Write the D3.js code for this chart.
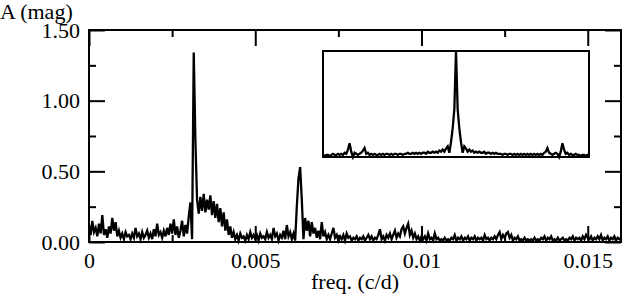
<!DOCTYPE html>
<html>
<head>
<meta charset="utf-8">
<script src="https://cdn.jsdelivr.net/npm/d3@7"></script>
<style>
  body { margin: 0; background: #fff; }
  svg { display: block; }
  text { font-family: "Liberation Serif", "Times New Roman", serif; font-size: 22px; fill: #000; }
</style>
</head>
<body>
<div id="chart"></div>
<script>
// amplitude spectrum, one value every 0.00005 c/d starting at 0
var freqStep = 0.00005;
var amplitude = [
  0.12, 0.05, 0.15, 0.07, 0.10, 0.04, 0.13, 0.06, 0.19, 0.05,
  0.09, 0.03, 0.11, 0.06, 0.17, 0.08, 0.14, 0.04, 0.08, 0.03,
  0.06, 0.02, 0.07, 0.04, 0.05, 0.02, 0.06, 0.03, 0.10, 0.04,
  0.06, 0.02, 0.07, 0.03, 0.05, 0.08, 0.03, 0.06, 0.02, 0.09,
  0.04, 0.13, 0.05, 0.07, 0.03, 0.08, 0.04, 0.10, 0.05, 0.13,
  0.06, 0.16, 0.05, 0.11, 0.03, 0.08, 0.15, 0.04, 0.12, 0.06,
  0.18, 0.28, 0.02, 1.34, 0.72, 0.30, 0.20, 0.32, 0.22, 0.34,
  0.21, 0.30, 0.23, 0.33, 0.19, 0.29, 0.17, 0.27, 0.14, 0.24,
  0.11, 0.21, 0.08, 0.16, 0.05, 0.11, 0.03, 0.07, 0.02, 0.05,
  0.01, 0.06, 0.03, 0.04, 0.01, 0.05, 0.02, 0.07, 0.03, 0.05,
  0.02, 0.05, 0.01, 0.06, 0.03, 0.04, 0.02, 0.07, 0.03, 0.05,
  0.02, 0.10, 0.04, 0.06, 0.01, 0.05, 0.03, 0.08, 0.02, 0.12,
  0.04, 0.07, 0.02, 0.06, 0.01, 0.25, 0.45, 0.53, 0.30, 0.02,
  0.17, 0.08, 0.15, 0.04, 0.14, 0.06, 0.10, 0.03, 0.08, 0.02,
  0.14, 0.04, 0.07, 0.02, 0.05, 0.02, 0.06, 0.10, 0.03, 0.05,
  0.01, 0.04, 0.02, 0.05, 0.01, 0.06, 0.03, 0.04, 0.01, 0.03,
  0.02, 0.04, 0.01, 0.03, 0.02, 0.04, 0.01, 0.03, 0.05, 0.02,
  0.04, 0.01, 0.03, 0.02, 0.05, 0.09, 0.02, 0.04, 0.01, 0.05,
  0.03, 0.06, 0.02, 0.05, 0.08, 0.03, 0.06, 0.04, 0.09, 0.11,
  0.06, 0.10, 0.13, 0.05, 0.08, 0.03, 0.06, 0.02, 0.04, 0.01,
  0.04, 0.02, 0.04, 0.01, 0.06, 0.02, 0.03, 0.01, 0.06, 0.02,
  0.03, 0.01, 0.02, 0.01, 0.03, 0.01, 0.02, 0.01, 0.03, 0.02,
  0.05, 0.01, 0.03, 0.02, 0.04, 0.01, 0.03, 0.02, 0.04, 0.01,
  0.03, 0.02, 0.04, 0.01, 0.03, 0.02, 0.03, 0.01, 0.05, 0.02,
  0.03, 0.01, 0.03, 0.02, 0.04, 0.02, 0.05, 0.07, 0.02, 0.05,
  0.03, 0.06, 0.07, 0.03, 0.05, 0.01, 0.03, 0.02, 0.04, 0.01,
  0.02, 0.01, 0.03, 0.01, 0.02, 0.01, 0.02, 0.01, 0.03, 0.01,
  0.02, 0.01, 0.03, 0.02, 0.04, 0.01, 0.03, 0.02, 0.04, 0.01,
  0.02, 0.01, 0.03, 0.01, 0.02, 0.03, 0.01, 0.02, 0.01, 0.03,
  0.02, 0.04, 0.01, 0.03, 0.02, 0.03, 0.01, 0.04, 0.02, 0.05,
  0.03, 0.02, 0.04, 0.01, 0.03, 0.02, 0.04, 0.02, 0.05, 0.01,
  0.03, 0.02, 0.04, 0.01, 0.03, 0.02, 0.04, 0.01, 0.03, 0.02,
  0.03
];

// spectral window (inset), offsets -0.004 .. 0.004 c/d, step 0.00005
var windowStart = -0.004;
var windowStep = 0.00005;
var windowAmp = [
  0.02, 0.01, 0.02, 0.02, 0.01, 0.02, 0.03, 0.02, 0.02, 0.03,
  0.02, 0.03, 0.02, 0.04, 0.03, 0.07, 0.13, 0.05, 0.00, 0.04,
  0.03, 0.02, 0.03, 0.04, 0.06, 0.085, 0.03, 0.04, 0.02, 0.03,
  0.02, 0.03, 0.02, 0.02, 0.03, 0.02, 0.03, 0.02, 0.03, 0.03,
  0.02, 0.03, 0.02, 0.03, 0.03, 0.02, 0.03, 0.03, 0.02, 0.03,
  0.03, 0.04, 0.03, 0.03, 0.04, 0.03, 0.04, 0.03, 0.04, 0.03,
  0.04, 0.04, 0.03, 0.05, 0.04, 0.04, 0.05, 0.04, 0.05, 0.04,
  0.06, 0.05, 0.07, 0.05, 0.08, 0.10, 0.04, 0.14, 0.27, 0.45,
  1.00, 0.45, 0.27, 0.14, 0.04, 0.10, 0.08, 0.05, 0.07, 0.05,
  0.06, 0.04, 0.05, 0.04, 0.05, 0.04, 0.04, 0.05, 0.03, 0.04,
  0.04, 0.03, 0.04, 0.03, 0.04, 0.03, 0.03, 0.03, 0.02, 0.03,
  0.03, 0.02, 0.03, 0.03, 0.02, 0.03, 0.02, 0.03, 0.02, 0.03,
  0.02, 0.03, 0.02, 0.03, 0.02, 0.03, 0.02, 0.03, 0.02, 0.03,
  0.02, 0.03, 0.02, 0.04, 0.05, 0.085, 0.04, 0.03, 0.02, 0.03,
  0.04, 0.03, 0.00, 0.05, 0.13, 0.07, 0.03, 0.04, 0.02, 0.03,
  0.02, 0.02, 0.03, 0.02, 0.02, 0.01, 0.02, 0.02, 0.01, 0.02,
  0.02
];

var xMajor = [0, 0.005, 0.01, 0.015];
var xMinor = [0.0025, 0.0075, 0.0125];
var yMajor = [0, 0.5, 1.0, 1.5];
var yMinor = [0.25, 0.75, 1.25];

var width = 622, height = 297;
var plotL = 89, plotR = 621, plotT = 30, plotB = 242;

var svg = d3.select('#chart').append('svg')
  .attr('width', width)
  .attr('height', height);

var x = d3.scaleLinear().domain([0, 0.016]).range([plotL, plotR]);
var y = d3.scaleLinear().domain([0, 1.5]).range([plotB, plotT]);

var line = d3.line()
  .x(function(d, i) { return x(i * freqStep); })
  .y(function(d) { return y(d); });

svg.append('path')
  .datum(amplitude)
  .attr('d', line)
  .attr('fill', 'none')
  .attr('stroke', '#000')
  .attr('stroke-width', 2.3);

// axes, ticks pointing inwards on all four sides
function tickAxis(axis, values, size, fmt) {
  return axis.tickValues(values).tickSize(size).tickFormat(fmt || '');
}
var fmtX = function(d) { return d === 0 ? '0' : String(d); };

svg.append('g').attr('class', 'axis')
  .attr('transform', `translate(0,${plotB})`)
  .call(tickAxis(d3.axisBottom(x), xMajor, -16, fmtX).tickPadding(10));
svg.append('g').attr('class', 'axis')
  .attr('transform', `translate(0,${plotB})`)
  .call(tickAxis(d3.axisBottom(x), xMinor, -7));
svg.append('g').attr('class', 'axis')
  .attr('transform', `translate(0,${plotT})`)
  .call(tickAxis(d3.axisTop(x), xMajor, -16));
svg.append('g').attr('class', 'axis')
  .attr('transform', `translate(0,${plotT})`)
  .call(tickAxis(d3.axisTop(x), xMinor, -7));

svg.append('g').attr('class', 'axis')
  .attr('transform', `translate(${plotL},0)`)
  .call(tickAxis(d3.axisLeft(y), yMajor, -16, d3.format('.2f')).tickPadding(9));
svg.append('g').attr('class', 'axis')
  .attr('transform', `translate(${plotL},0)`)
  .call(tickAxis(d3.axisLeft(y), yMinor, -7));
svg.append('g').attr('class', 'axis')
  .attr('transform', `translate(${plotR},0)`)
  .call(tickAxis(d3.axisRight(y), yMajor, -16));
svg.append('g').attr('class', 'axis')
  .attr('transform', `translate(${plotR},0)`)
  .call(tickAxis(d3.axisRight(y), yMinor, -7));

svg.selectAll('.axis .domain').remove();
svg.selectAll('.axis line').attr('stroke', '#000').attr('stroke-width', 2);
svg.selectAll('.axis text')
  .attr('font-family', '"Liberation Serif", "Times New Roman", serif')
  .attr('font-size', 22)
  .attr('fill', '#000');

svg.append('rect')
  .attr('x', plotL).attr('y', plotT)
  .attr('width', plotR - plotL).attr('height', plotB - plotT)
  .attr('fill', 'none')
  .attr('stroke', '#000')
  .attr('stroke-width', 2);

svg.append('text')
  .attr('x', (plotL + plotR) / 2)
  .attr('y', 289)
  .attr('text-anchor', 'middle')
  .text('freq. (c/d)');

svg.append('text')
  .attr('x', 0)
  .attr('y', 19)
  .text('A (mag)');

// inset: spectral window
var ix = d3.scaleLinear().domain([-0.004, 0.004]).range([323, 589]);
var iy = d3.scaleLinear().domain([0, 1]).range([157, 51]);

svg.append('rect')
  .attr('x', 323).attr('y', 51)
  .attr('width', 266).attr('height', 106)
  .attr('fill', '#fff')
  .attr('stroke', '#000')
  .attr('stroke-width', 2);

var insetLine = d3.line()
  .x(function(d, i) { return ix(windowStart + i * windowStep); })
  .y(function(d) { return iy(d); });

svg.append('path')
  .datum(windowAmp)
  .attr('d', insetLine)
  .attr('fill', 'none')
  .attr('stroke', '#000')
  .attr('stroke-width', 2.3);
</script>
</body>
</html>
